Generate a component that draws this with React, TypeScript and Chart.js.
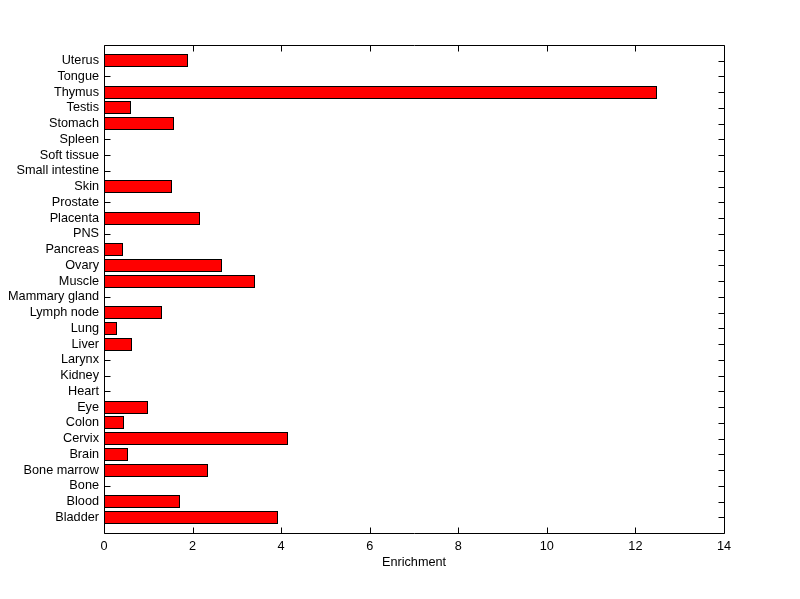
import React, { useEffect, useRef } from "react";
import { Chart, registerables } from "chart.js";

Chart.register(...registerables);

// Categories top to bottom, as shown in the chart
const categories: string[] = [
  "Uterus", "Tongue", "Thymus", "Testis", "Stomach", "Spleen", "Soft tissue",
  "Small intestine", "Skin", "Prostate", "Placenta", "PNS", "Pancreas", "Ovary",
  "Muscle", "Mammary gland", "Lymph node", "Lung", "Liver", "Larynx", "Kidney",
  "Heart", "Eye", "Colon", "Cervix", "Brain", "Bone marrow", "Bone", "Blood", "Bladder",
];

const enrichment: number[] = [
  1.89, 0, 12.48, 0.62, 1.57, 0, 0,
  0, 1.54, 0, 2.16, 0, 0.44, 2.67,
  3.42, 0, 1.32, 0.30, 0.64, 0, 0,
  0, 1.00, 0.46, 4.15, 0.55, 2.34, 0, 1.71, 3.92,
];

const xTicks: number[] = [0, 2, 4, 6, 8, 10, 12, 14];
const xTitle = "Enrichment";

const FONT = { family: "'Liberation Sans', Arial, sans-serif", size: 12.7 };

const framePlugin = {
  id: "frameTicks",
  beforeDatasetsDraw(chart: any) {
    const { ctx, chartArea } = chart;
    const l = Math.round(chartArea.left) + 0.5;
    const r = Math.round(chartArea.right) + 0.5;
    const t = Math.round(chartArea.top) + 0.5;
    const b = Math.round(chartArea.bottom) + 0.5;
    const tl = 6;
    ctx.save();
    ctx.strokeStyle = "#000";
    ctx.lineWidth = 1;
    ctx.beginPath();
    ctx.rect(l, t, r - l, b - t);
    const xs = chart.scales.x;
    xs.ticks.forEach((_: any, i: number) => {
      const px = Math.round(xs.getPixelForTick(i)) + 0.5;
      ctx.moveTo(px, b);
      ctx.lineTo(px, b - tl);
      ctx.moveTo(px, t);
      ctx.lineTo(px, t + tl);
    });
    const ys = chart.scales.y;
    ys.ticks.forEach((tk: any, i: number) => {
      const lab = ys.getLabelForValue(tk.value);
      if (!lab) return;
      const py = Math.round(ys.getPixelForTick(i)) + 0.5;
      ctx.moveTo(l, py);
      ctx.lineTo(l + tl, py);
      ctx.moveTo(r, py);
      ctx.lineTo(r - tl, py);
    });
    ctx.stroke();
    ctx.restore();
  },
  afterDatasetsUpdate(chart: any) {
    // snap bars to whole pixels for crisp 1px borders
    const meta = chart.getDatasetMeta(0);
    meta.data.forEach((el: any) => {
      if (!el || el.skip) return;
      const h = 13;
      el.height = h;
      el.y = Math.round(el.y - h / 2) + h / 2;
      el.x = Math.round(el.x);
      el.base = Math.round(el.base);
    });
  },
};

export default function App() {
  const ref = useRef<HTMLCanvasElement | null>(null);
  useEffect(() => {
    if (!ref.current) return;
    const labels = ["", ...categories, ""];
    const data = [null, ...enrichment.map((v) => (v === 0 ? null : v)), null];
    const chart = new Chart(ref.current, {
      type: "bar",
      data: {
        labels,
        datasets: [
          {
            data: data as any,
            backgroundColor: "#ff0000",
            borderColor: "#000000",
            borderWidth: 1,
            borderSkipped: false,
            barPercentage: 0.83,
            categoryPercentage: 1,
          },
        ],
      },
      options: {
        indexAxis: "y",
        responsive: false,
        animation: false,
        events: [],
        layout: { padding: { top: 45, right: 76, bottom: 0, left: 0 } },
        plugins: { legend: { display: false }, tooltip: { enabled: false } },
        scales: {
          x: {
            type: "linear",
            min: 0,
            max: 14,
            afterFit: (s: any) => { s.height = 66; },
            afterBuildTicks: (s: any) => { s.ticks = xTicks.map((v) => ({ value: v })); },
            grid: { display: false, drawTicks: false },
            border: { display: false },
            ticks: { color: "#000", font: FONT, padding: 6, maxRotation: 0 },
            title: { display: true, text: xTitle, color: "#000", font: FONT, padding: { top: 0, bottom: 29 } },
          },
          y: {
            type: "category",
            offset: false,
            afterFit: (s: any) => { s.width = 104; },
            grid: { display: false, drawTicks: false },
            border: { display: false },
            ticks: { color: "#000", font: FONT, padding: 5, autoSkip: false },
          },
        },
      },
      plugins: [framePlugin],
    });
    return () => chart.destroy();
  }, []);
  return (
    <canvas
      ref={ref}
      width={800}
      height={599}
      style={{ position: "fixed", left: 0, top: 0, width: 800, height: 599, background: "#fff" }}
    />
  );
}
